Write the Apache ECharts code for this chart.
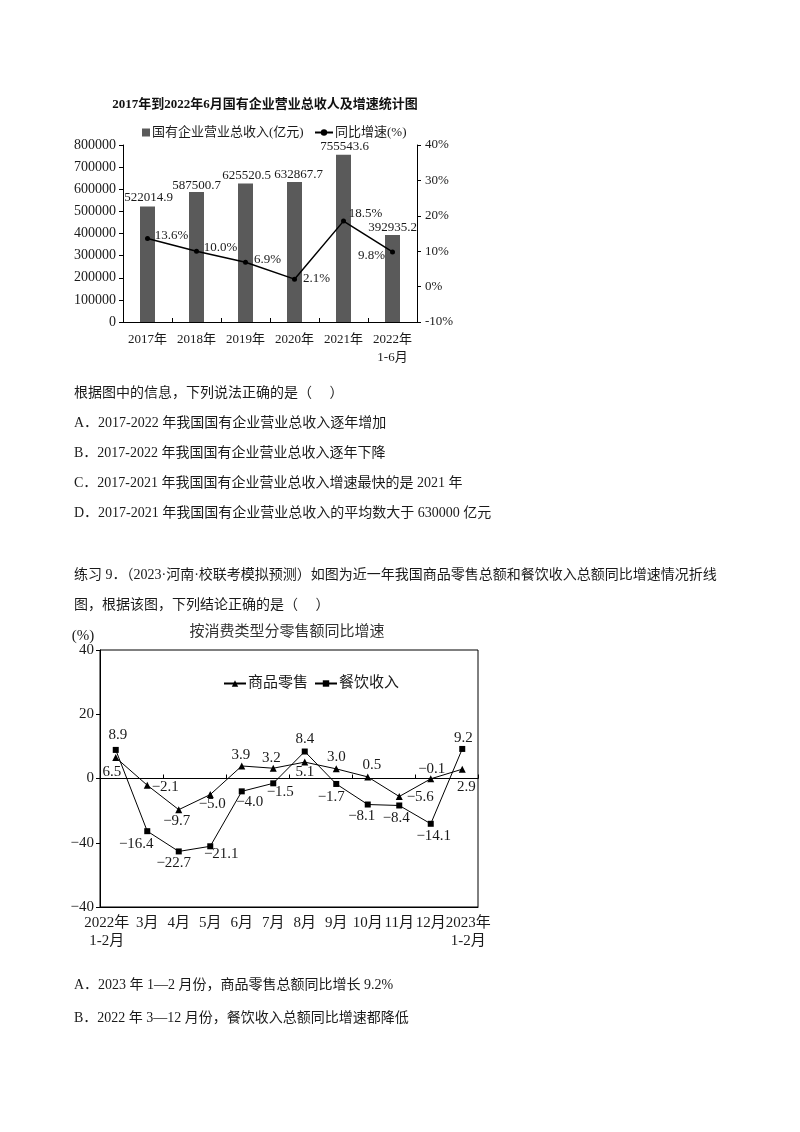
<!DOCTYPE html>
<html>
<head>
<meta charset="utf-8">
<script src="https://cdn.jsdelivr.net/npm/echarts@6/dist/echarts.min.js"></script>
<style>
  html, body { margin: 0; padding: 0; background: #fff; }
  #page { position: relative; width: 800px; height: 1132px; overflow: hidden; }
  #chart { position: absolute; left: 0; top: 0; width: 800px; height: 1132px; }
  .t { position: absolute; left: 74px; font-size: 14px; line-height: 20px; color: #1a1a1a;
       font-family: "Liberation Serif", "Noto Sans CJK SC", serif; white-space: nowrap; }
</style>
</head>
<body>
<div id="page">
  <div id="chart"></div>
  <div class="t" style="top:383px">根据图中的信息，下列说法正确的是（　 ）</div>
  <div class="t" style="top:413px">A．2017-2022 年我国国有企业营业总收入逐年增加</div>
  <div class="t" style="top:443px">B．2017-2022 年我国国有企业营业总收入逐年下降</div>
  <div class="t" style="top:473px">C．2017-2021 年我国国有企业营业总收入增速最快的是 2021 年</div>
  <div class="t" style="top:503px">D．2017-2021 年我国国有企业营业总收入的平均数大于 630000 亿元</div>
  <div class="t" style="top:565px">练习 9．（2023·河南·校联考模拟预测）如图为近一年我国商品零售总额和餐饮收入总额同比增速情况折线</div>
  <div class="t" style="top:595px">图，根据该图，下列结论正确的是（　 ）</div>
  <div class="t" style="top:975px">A．2023 年 1—2 月份，商品零售总额同比增长 9.2%</div>
  <div class="t" style="top:1008px">B．2022 年 3—12 月份，餐饮收入总额同比增速都降低</div>
</div>
<script>
// ---- Chart 1: revenue of state-owned enterprises and growth rate ----
const years = ['2017年', '2018年', '2019年', '2020年', '2021年', '2022年\n1-6月'];
const revenue = [522014.9, 587500.7, 625520.5, 632867.7, 755543.6, 392935.2];
const growth = [13.6, 10.0, 6.9, 2.1, 18.5, 9.8];

// ---- Chart 2: year-on-year growth of retail sales by consumption type ----
const months = ['2022年\n1-2月', '3月', '4月', '5月', '6月', '7月', '8月', '9月', '10月', '11月', '12月', '2023年\n1-2月'];
const retail = [6.5, -2.1, -9.7, -5.0, 3.9, 3.2, 5.1, 3.0, 0.5, -5.6, -0.1, 2.9];
const catering = [8.9, -16.4, -22.7, -21.1, -4.0, -1.5, 8.4, -1.7, -8.1, -8.4, -14.1, 9.2];
const pctTickValues = [40, 20, 0, -20, -40];
const pctTickText = ['40', '20', '0', '−40', '−40'];

// label placement (offset of label centre from the mark)
const revenueLabelShift = [[1, -1], [0, 1], [1, -1], [4, 0], [1, -1], [0, 0]];
const growthLabelShift = [[24, -3], [24, -4], [22, -3], [22, -1], [22, -8], [-21, 4]];
const retailLabelShift = [[-4, 14], [18, 2], [-2, 11], [2, 9], [-1, -11], [-2, -10], [0, 10], [0, -12], [4, -12], [21, 1], [1, -10], [4, 18]];
const cateringLabelShift = [[2, -15], [-11, 13], [-5, 12], [11, 8], [8, 11], [7, 9], [0, -12], [-5, 13], [-6, 12], [-3, 13], [3, 12], [1, -11]];
// horizontal padding of month labels at both ends of the axis
const monthLabelPadding = { 0: [0, 18, 0, 0], 11: [0, 0, 0, 12] };

const FONT = '"Liberation Serif", "Noto Sans CJK SC", serif';
const INK = '#1a1a1a';

function signed(v) {
  return (v < 0 ? '−' + Math.abs(v).toFixed(1) : v.toFixed(1));
}

const chart = echarts.init(document.getElementById('chart'), null, { renderer: 'canvas' });

const monthCategories = months.map((m, i) => (
  monthLabelPadding[i] ? { value: m, textStyle: { padding: monthLabelPadding[i] } } : m
));

const option = {
  backgroundColor: '#fff',
  animation: false,
  textStyle: { fontFamily: FONT, color: INK },
  graphic: [
    { type: 'text', x: 265, y: 105, style: { text: '2017年到2022年6月国有企业营业总收人及增速统计图', align: 'center', verticalAlign: 'middle', font: 'bold 13px ' + FONT, fill: '#111' } },
    { type: 'text', x: 287, y: 632, style: { text: '按消费类型分零售额同比增速', align: 'center', verticalAlign: 'middle', font: '15px ' + FONT, fill: '#333' } },
    { type: 'text', x: 83, y: 636, style: { text: '(%)', align: 'center', verticalAlign: 'middle', font: '15px ' + FONT, fill: INK } }
  ],
  legend: [
    {
      data: ['国有企业营业总收入(亿元)'], left: 137, top: 121, itemWidth: 8, itemHeight: 8, itemGap: 4,
      icon: 'rect', textStyle: { fontSize: 13, fontFamily: FONT, color: INK, padding: [0, 0, 0, -3] }
    },
    {
      data: ['同比增速(%)'], left: 309, top: 121, itemWidth: 18, itemHeight: 8, itemGap: 4,
      textStyle: { fontSize: 13, fontFamily: FONT, color: INK, padding: [0, 0, 0, -3] }
    },
    {
      data: ['商品零售', '餐饮收入'], left: 218, top: 671, itemWidth: 22, itemHeight: 8, itemGap: 6,
      textStyle: { fontSize: 15, fontFamily: FONT, color: INK, padding: [0, 0, 0, -3] }
    }
  ],
  grid: [
    { left: 123, top: 145, width: 294, height: 177, containLabel: false },
    { left: 100, top: 650, width: 378, height: 257, containLabel: false, show: true, borderColor: '#000', borderWidth: 1, backgroundColor: 'transparent' }
  ],
  xAxis: [
    {
      gridIndex: 0, type: 'category', data: years, boundaryGap: true,
      axisLine: { lineStyle: { color: '#000', width: 1 } },
      axisTick: { show: true, inside: true, length: 4, lineStyle: { color: '#000' } },
      axisLabel: { color: INK, fontSize: 13, fontFamily: FONT, margin: 9, lineHeight: 18, interval: 0 }
    },
    {
      gridIndex: 1, type: 'category', data: monthCategories, boundaryGap: true, position: 'bottom',
      axisLine: { onZero: false, lineStyle: { color: '#000', width: 1 } },
      axisTick: { show: false },
      axisLabel: { color: INK, fontSize: 15, fontFamily: FONT, margin: 7, lineHeight: 18, interval: 0, hideOverlap: false }
    },
    {
      // zero line across the plot, ticks between months
      gridIndex: 1, type: 'category', data: months, boundaryGap: true, position: 'top',
      axisLine: { onZero: true, lineStyle: { color: '#000', width: 1 } },
      axisTick: { show: true, inside: false, length: 4, lineStyle: { color: '#000' } },
      axisLabel: { show: false }
    }
  ],
  yAxis: [
    {
      gridIndex: 0, type: 'value', min: 0, max: 800000, interval: 100000, position: 'left',
      splitLine: { show: false },
      axisLine: { show: true, lineStyle: { color: '#000' } },
      axisTick: { show: true, length: 4, lineStyle: { color: '#000' } },
      axisLabel: { color: INK, fontSize: 14, fontFamily: FONT, margin: 7, formatter: v => String(v) }
    },
    {
      gridIndex: 0, type: 'value', min: -10, max: 40, interval: 10, position: 'right',
      splitLine: { show: false },
      axisLine: { show: true, lineStyle: { color: '#000' } },
      axisTick: { show: true, length: 4, lineStyle: { color: '#000' } },
      axisLabel: { color: INK, fontSize: 13, fontFamily: FONT, margin: 8, formatter: '{value}%' }
    },
    {
      gridIndex: 1, type: 'value', min: -40, max: 40, interval: 20,
      splitLine: { show: false },
      axisLine: { show: true, onZero: false, lineStyle: { color: '#000' } },
      axisTick: { show: true, length: 4, lineStyle: { color: '#000' } },
      axisLabel: {
        color: INK, fontSize: 15, fontFamily: FONT, margin: 6,
        formatter: function (v) {
          const i = pctTickValues.indexOf(v);
          return i >= 0 ? pctTickText[i] : '';
        }
      }
    }
  ],
  series: [
    {
      name: '国有企业营业总收入(亿元)', type: 'bar', xAxisIndex: 0, yAxisIndex: 0,
      barWidth: 15, itemStyle: { color: '#5a5a5a' },
      data: revenue.map((v, i) => ({
        value: v,
        label: { show: true, position: 'top', distance: 1, offset: revenueLabelShift[i], formatter: v.toFixed(1), fontSize: 13, fontFamily: FONT, color: INK }
      })),
      z: 2
    },
    {
      name: '同比增速(%)', type: 'line', xAxisIndex: 0, yAxisIndex: 1,
      symbol: 'circle', symbolSize: 5, lineStyle: { color: '#000', width: 1.5 }, itemStyle: { color: '#000' },
      data: growth.map((v, i) => ({
        value: v,
        label: { show: true, position: 'inside', offset: growthLabelShift[i], formatter: v.toFixed(1) + '%', fontSize: 13, fontFamily: FONT, color: INK }
      })),
      z: 3
    },
    {
      name: '商品零售', type: 'line', xAxisIndex: 1, yAxisIndex: 2,
      symbol: 'triangle', symbolSize: 7, lineStyle: { color: '#000', width: 1 }, itemStyle: { color: '#000' },
      data: retail.map((v, i) => ({
        value: v,
        label: { show: true, position: 'inside', offset: retailLabelShift[i], formatter: signed(v), fontSize: 15, fontFamily: FONT, color: INK }
      }))
    },
    {
      name: '餐饮收入', type: 'line', xAxisIndex: 1, yAxisIndex: 2,
      symbol: 'rect', symbolSize: 6, lineStyle: { color: '#000', width: 1 }, itemStyle: { color: '#000' },
      data: catering.map((v, i) => ({
        value: v,
        label: { show: true, position: 'inside', offset: cateringLabelShift[i], formatter: signed(v), fontSize: 15, fontFamily: FONT, color: INK }
      }))
    }
  ]
};

chart.setOption(option);
</script>
</body>
</html>
